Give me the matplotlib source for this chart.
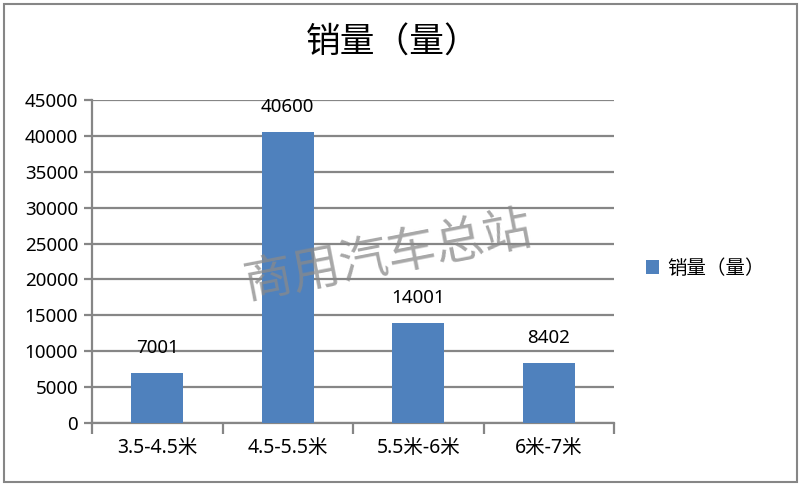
import matplotlib
matplotlib.use("Agg")
import matplotlib.pyplot as plt
from matplotlib.patches import Rectangle

plt.rcParams['font.family'] = ['Noto Sans', 'Noto Sans CJK SC', 'DejaVu Sans']

categories = ["3.5-4.5米", "4.5-5.5米", "5.5米-6米", "6米-7米"]
values = [7001, 40600, 14001, 8402]
series_name = "销量（量）"
title = "销量（量）"
yticks = [0, 5000, 10000, 15000, 20000, 25000, 30000, 35000, 40000, 45000]
watermark = "商用汽车总站"

W, H = 802, 486
fig = plt.figure(figsize=(W / 100, H / 100), dpi=100)
fig.patch.set_facecolor("white")

# outer border
fig.patches.append(Rectangle((4 / W, 4 / H), 793 / W, 478 / H, transform=fig.transFigure,
                             fill=False, edgecolor="#868686", linewidth=1.5))

ax = fig.add_axes([92 / W, 1 - 423 / H, (614 - 92) / W, (423 - 100) / H])
x = list(range(len(categories)))
bars = ax.bar(x, values, width=0.4, color="#4F81BD", zorder=3, label=series_name)
ax.set_xlim(-0.5, len(categories) - 0.5)
ax.set_ylim(0, 45000)
ax.set_yticks(yticks)
ax.set_yticklabels([str(v) for v in yticks], fontsize=13.5)
ax.yaxis.grid(True, color="#868686", linewidth=1.6, zorder=0)
ax.set_axisbelow(True)

for s in ["top", "right"]:
    ax.spines[s].set_visible(False)
ax.spines["left"].set_color("#868686")
ax.spines["left"].set_linewidth(1.6)
ax.spines["bottom"].set_color("#868686")
ax.spines["bottom"].set_linewidth(1.6)

ax.tick_params(axis="y", length=6, width=1.6, color="#868686", pad=4)
ax.set_xticks([i - 0.5 for i in range(len(categories) + 1)], minor=False)
ax.set_xticklabels([])
ax.tick_params(axis="x", which="major", length=8, width=1.6, color="#868686")
ax.set_xticks(x, minor=True)
ax.set_xticklabels(categories, minor=True, fontsize=14)
ax.tick_params(axis="x", which="minor", length=0, pad=11)

for xi, v in zip(x, values):
    ax.annotate(str(v), (xi, v), xytext=(0, 18), textcoords="offset points",
                ha="center", va="center", fontsize=13.5)

fig.text(0.489, 1 - 43 / H, title, ha="center", va="center", fontsize=25,
         fontweight="medium", family=['Noto Sans CJK SC'])

leg = fig.legend(handles=[bars], labels=[series_name], loc="center left",
                 bbox_to_anchor=(628 / W, 1 - 269 / H), frameon=False, fontsize=14,
                 handlelength=0.7, handleheight=0.7, handletextpad=0.4)

fig.text(388 / W, 1 - 256 / H, watermark, ha="center", va="center", fontsize=35,
         rotation=11, color="#8a8a8a", alpha=0.75, fontweight="light", zorder=10,
         family=['Noto Sans CJK SC'])

fig.savefig("out.png", dpi=100, facecolor="white")
